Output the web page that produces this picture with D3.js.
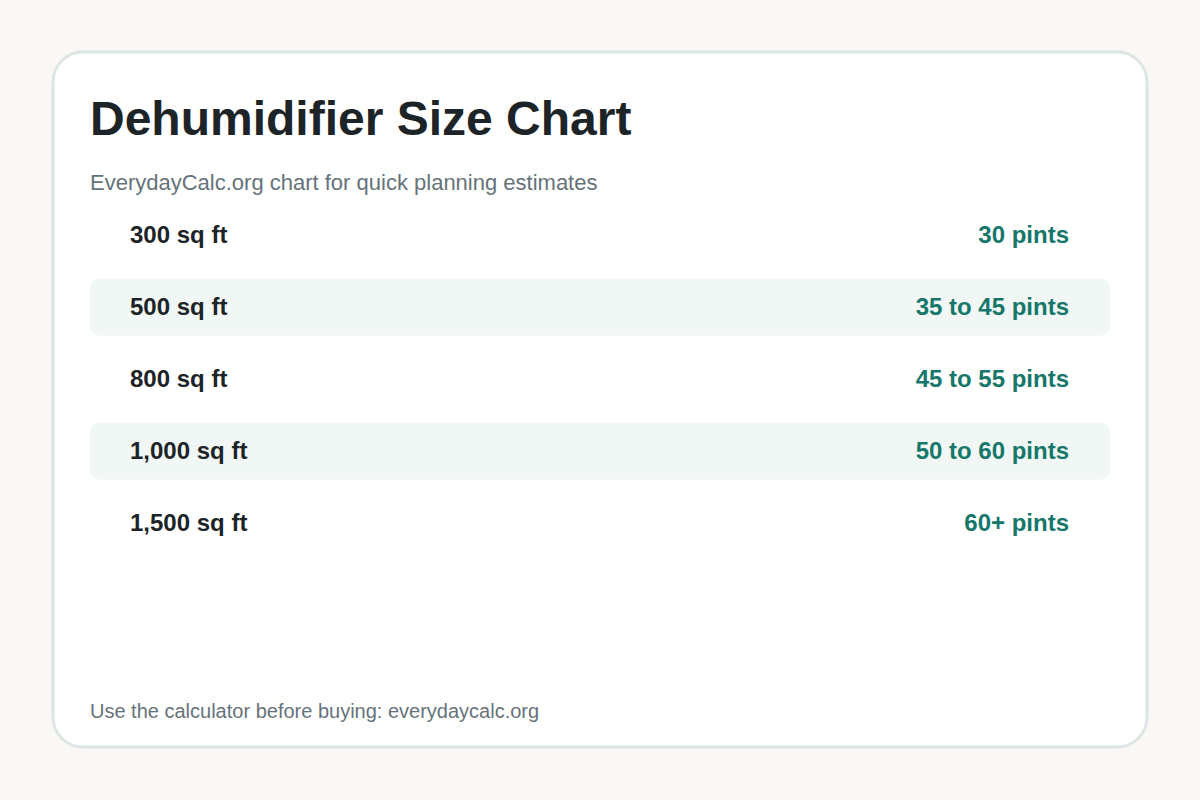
<!DOCTYPE html><html><head><meta charset="utf-8">
<script src="https://cdn.jsdelivr.net/npm/d3@7"></script>
<style>body{margin:0;background:#f9f8f4}</style></head><body>
<script>
const areas=["300 sq ft","500 sq ft","800 sq ft","1,000 sq ft","1,500 sq ft"];
const pints=["30 pints","35 to 45 pints","45 to 55 pints","50 to 60 pints","60+ pints"];
const title="Dehumidifier Size Chart";
const subtitle="EverydayCalc.org chart for quick planning estimates";
const footer="Use the calculator before buying: everydaycalc.org";
const font="'Liberation Sans', Arial, sans-serif";
const svg=d3.select("body").append("svg").attr("width",1200).attr("height",800);
svg.append("rect").attr("width",1200).attr("height",800).attr("fill","#f9f8f4");
svg.append("rect").attr("x",53).attr("y",52).attr("width",1094).attr("height",695).attr("rx",30)
 .attr("fill","#fff").attr("stroke","#dde6e4").attr("stroke-width",3);
svg.append("text").attr("x",90).attr("y",135).text(title).attr("font-family",font).attr("font-weight",700).attr("font-size",48).attr("fill","#1d2428");
svg.append("text").attr("x",90).attr("y",190).text(subtitle).attr("font-family",font).attr("font-size",22).attr("fill","#66737a");
const y=d3.scaleBand().domain(areas).range([191.8,566.2]).padding(0.2);
const g=svg.selectAll("g.row").data(areas).join("g");
g.filter((d,i)=>i%2==1).append("rect").attr("x",90).attr("width",1020).attr("y",d=>y(d)).attr("height",y.bandwidth()).attr("rx",10).attr("fill","#f1f7f5");
g.append("text").attr("x",130).attr("y",d=>y(d)+y.bandwidth()/2).attr("dy","0.35em").text(d=>d)
 .attr("font-family",font).attr("font-weight",700).attr("font-size",24).attr("fill","#1d2428");
g.append("text").attr("x",1069).attr("y",d=>y(d)+y.bandwidth()/2).attr("dy","0.35em").attr("text-anchor","end").text((d,i)=>pints[i])
 .attr("font-family",font).attr("font-weight",700).attr("font-size",24).attr("fill","#16776a");
svg.append("text").attr("x",90).attr("y",718).text(footer).attr("font-family",font).attr("font-size",20).attr("fill","#66737a");
</script></body></html>
